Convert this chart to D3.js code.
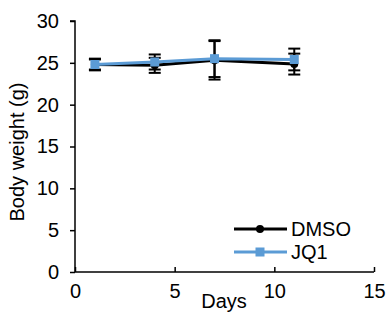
<!DOCTYPE html>
<html>
<head>
<meta charset="utf-8">
<script src="https://cdn.jsdelivr.net/npm/d3@7"></script>
<style>
  body { margin: 0; background: #fff; }
  text { font-family: "Liberation Sans", Arial, sans-serif; fill: #000; }
</style>
</head>
<body>
<svg id="chart" width="389" height="324"></svg>
<script>
const days = [1, 4, 7, 11];
const dmso = [24.8, 24.7, 25.3, 24.85];
const dmsoErr = [0.7, 0.9, 2.3, 1.25];
const jq1 = [24.8, 25.1, 25.5, 25.4];
const jq1Err = [0.6, 0.9, 2.2, 1.3];
const xTicks = [0, 5, 10, 15];
const yTicks = [0, 5, 10, 15, 20, 25, 30];

const svg = d3.select('#chart');
const x = d3.scaleLinear().domain([0, 15]).range([75, 374]);
const y = d3.scaleLinear().domain([0, 30]).range([272, 21]);
const fs = 20;

// y axis
const yAxis = svg.append('g')
  .attr('transform', 'translate(75,0)')
  .call(d3.axisLeft(y).tickValues(yTicks).tickSize(5).tickPadding(11));
yAxis.select('.domain').attr('stroke', '#000').attr('stroke-width', 1.5).attr('d', `M-5,${y(30)}H0V${y(0)}`);
yAxis.selectAll('.tick line').attr('stroke', '#000').attr('stroke-width', 1.5);
yAxis.selectAll('.tick text').attr('font-size', fs).attr('font-family', '"Liberation Sans", Arial, sans-serif');

// x axis, ticks point up
const xAxis = svg.append('g')
  .attr('transform', 'translate(0,272)')
  .call(d3.axisBottom(x).tickValues(xTicks).tickSize(-5).tickPadding(12));
xAxis.select('.domain').attr('stroke', '#000').attr('stroke-width', 1.5).attr('d', `M${x(0)},0H${x(15)}`);
xAxis.selectAll('.tick line').attr('stroke', '#000').attr('stroke-width', 1.5);
xAxis.selectAll('.tick text').attr('font-size', fs).attr('font-family', '"Liberation Sans", Arial, sans-serif');

svg.append('text')
  .attr('x', 224).attr('y', 308)
  .attr('text-anchor', 'middle')
  .attr('font-size', fs)
  .text('Days');

svg.append('text')
  .attr('transform', 'translate(24,152) rotate(-90)')
  .attr('text-anchor', 'middle')
  .attr('font-size', fs)
  .text('Body weight (g)');

const line = d3.line().x((d) => x(d[0])).y((d) => y(d[1]));

function errorBars(vals, errs) {
  const g = svg.append('g').attr('stroke', '#000').attr('stroke-width', 2);
  days.forEach((d, i) => {
    const cx = x(d);
    const top = y(vals[i] + errs[i]);
    const bot = y(vals[i] - errs[i]);
    g.append('line').attr('x1', cx).attr('x2', cx).attr('y1', top).attr('y2', bot);
    g.append('line').attr('x1', cx - 6).attr('x2', cx + 6).attr('y1', top).attr('y2', top);
    g.append('line').attr('x1', cx - 6).attr('x2', cx + 6).attr('y1', bot).attr('y2', bot);
  });
}

errorBars(dmso, dmsoErr);
errorBars(jq1, jq1Err);

svg.append('path')
  .datum(days.map((d, i) => [d, dmso[i]]))
  .attr('d', line)
  .attr('fill', 'none')
  .attr('stroke', '#000')
  .attr('stroke-width', 3);

svg.selectAll('.dot')
  .data(days.map((d, i) => [d, dmso[i]]))
  .enter()
  .append('circle')
  .attr('cx', (d) => x(d[0]))
  .attr('cy', (d) => y(d[1]))
  .attr('r', 4)
  .attr('fill', '#000');

const blue = '#5B9BD5';
svg.append('path')
  .datum(days.map((d, i) => [d, jq1[i]]))
  .attr('d', line)
  .attr('fill', 'none')
  .attr('stroke', blue)
  .attr('stroke-width', 3);

svg.selectAll('.sq')
  .data(days.map((d, i) => [d, jq1[i]]))
  .enter()
  .append('rect')
  .attr('x', (d) => x(d[0]) - 4.5)
  .attr('y', (d) => y(d[1]) - 4.5)
  .attr('width', 9)
  .attr('height', 9)
  .attr('fill', blue);

// legend
const legend = svg.append('g');
legend.append('line').attr('x1', 234).attr('x2', 287).attr('y1', 229).attr('y2', 229)
  .attr('stroke', '#000').attr('stroke-width', 3);
legend.append('circle').attr('cx', 260).attr('cy', 229).attr('r', 4).attr('fill', '#000');
legend.append('text').attr('x', 291).attr('y', 236).attr('font-size', fs).text('DMSO');
legend.append('line').attr('x1', 234).attr('x2', 287).attr('y1', 252).attr('y2', 252)
  .attr('stroke', blue).attr('stroke-width', 3);
legend.append('rect').attr('x', 255.5).attr('y', 247.5).attr('width', 9).attr('height', 9).attr('fill', blue);
legend.append('text').attr('x', 291).attr('y', 259).attr('font-size', fs).text('JQ1');
</script>
</body>
</html>
